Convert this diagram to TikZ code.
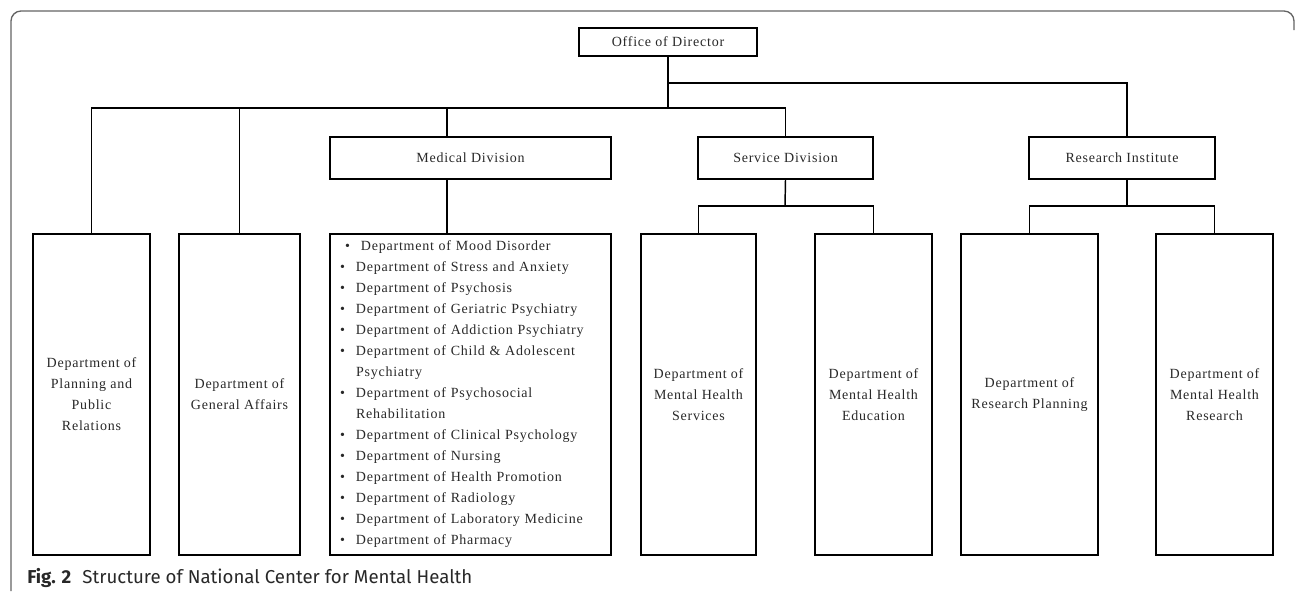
\documentclass[tikz,border=0pt]{standalone}
\usepackage{fontspec}
\setmainfont{Liberation Serif}[LetterSpace=5.5]
\newfontfamily\capfont{Fira Sans}
\newdimen\pxu \pxu=0.75pt
\definecolor{framegray}{RGB}{100,100,100}
\definecolor{txtgray}{RGB}{40,40,40}
\newcommand\bitem[1]{\makebox[16\pxu][l]{\textbullet}#1}
\begin{document}
\begin{tikzpicture}[x=0.75pt,y=-0.75pt,
  box/.style={draw=black, line width=1.1pt, inner sep=0pt,
    font=\fontsize{10.5}{15.75}\selectfont, text=txtgray, align=center},
  link/.style={draw=black, line width=1.1pt},
  frameline/.style={draw=framegray, line width=1pt, rounded corners=7.5pt}]
\useasboundingbox (0,0) rectangle (1295,594);
\draw[frameline] (11,591) -- (11,11) -- (1294,11) -- (1294,30);

\node[box, minimum width=178\pxu, minimum height=28\pxu] (office) at (668,42) {Office of Director};
\node[box, minimum width=281\pxu, minimum height=42\pxu] (med) at (470.5,158) {Medical Division};
\node[box, minimum width=175\pxu, minimum height=42\pxu] (serv) at (785.5,158) {Service Division};
\node[box, minimum width=186\pxu, minimum height=42\pxu] (res) at (1122,158) {Research Institute};

\node[box, minimum width=117\pxu, minimum height=321\pxu] (plan) at (91.5,394.5) {Department of\\Planning and\\Public\\Relations};
\node[box, minimum width=121\pxu, minimum height=321\pxu] (gen) at (239.5,394.5) {Department of\\General Affairs};
\node[box, minimum width=281\pxu, minimum height=321\pxu, text width=261\pxu, inner xsep=10\pxu, align=left] (list) at (470.5,394.5) {%
\hspace*{5\pxu}\bitem{Department of Mood Disorder}\\
\bitem{Department of Stress and Anxiety}\\
\bitem{Department of Psychosis}\\
\bitem{Department of Geriatric Psychiatry}\\
\bitem{Department of Addiction Psychiatry}\\
\bitem{Department of Child \& Adolescent}\\
\hspace*{16\pxu}Psychiatry\\
\bitem{Department of Psychosocial}\\
\hspace*{16\pxu}Rehabilitation\\
\bitem{Department of Clinical Psychology}\\
\bitem{Department of Nursing}\\
\bitem{Department of Health Promotion}\\
\bitem{Department of Radiology}\\
\bitem{Department of Laboratory Medicine}\\
\bitem{Department of Pharmacy}};
\node[box, minimum width=115\pxu, minimum height=321\pxu] (mhs) at (698.5,394.5) {Department of\\Mental Health\\Services};
\node[box, minimum width=117\pxu, minimum height=321\pxu] (mhe) at (873.5,394.5) {Department of\\Mental Health\\Education};
\node[box, minimum width=137\pxu, minimum height=321\pxu] (rp) at (1029.5,394.5) {Department of\\Research Planning};
\node[box, minimum width=117\pxu, minimum height=321\pxu] (mhr) at (1214.5,394.5) {Department of\\Mental Health\\Research};

\node[anchor=base west, inner sep=0pt, text=txtgray, font=\capfont\fontsize{14}{16}\selectfont] (cap) at (27,583) {\textbf{Fig. 2}\hspace{11\pxu}Structure of National Center for Mental Health};

\coordinate (hl) at (668,108);
\coordinate (hu) at (668,83);
\coordinate (mx) at (447,0);
\coordinate (rx) at (1127,0);
\coordinate (sj) at (785,206);
\coordinate (rj) at (1127,206);

\draw[link] (office.south) -- (hl);
\draw[link] (plan.north) |- (hl);
\draw[link] (gen.north) |- (hl);
\draw[link] (med.north -| mx) |- (hl);
\draw[link] (serv.north) |- (hl);
\draw[link] (hu) -| (res.north -| rx);
\draw[link] (med.south -| mx) -- (list.north -| mx);
\draw[link] (serv.south) -- (sj);
\draw[link] (mhs.north) |- (sj) -| (mhe.north);
\draw[link] (res.south -| rx) -- (rj);
\draw[link] (rp.north) |- (rj) -| (mhr.north);
\end{tikzpicture}
\end{document}
